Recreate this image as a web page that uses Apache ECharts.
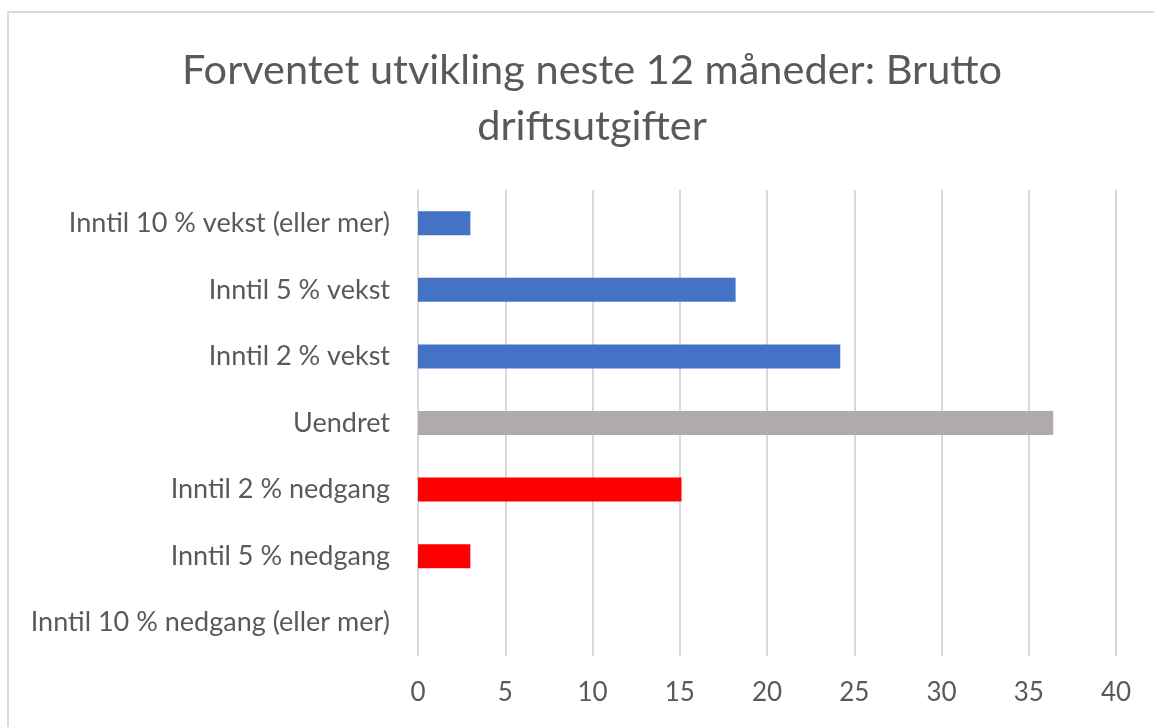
<!DOCTYPE html>
<html><head><meta charset="utf-8">
<script src="https://cdn.jsdelivr.net/npm/echarts@6/dist/echarts.min.js"></script>
<style>
html,body{margin:0;padding:0;background:#fff;}
#frame{position:absolute;left:7px;top:11px;width:1160px;height:740px;border:2px solid #d9d9d9;box-sizing:border-box;}
#chart{position:absolute;left:0;top:0;width:1154px;height:727px;}
</style></head>
<body>
<div id="frame"></div>
<div id="chart"></div>
<script>
const categories = [
  "Inntil 10 % vekst (eller mer)",
  "Inntil 5 % vekst",
  "Inntil 2 % vekst",
  "Uendret",
  "Inntil 2 % nedgang",
  "Inntil 5 % nedgang",
  "Inntil 10 % nedgang (eller mer)"
];
const values = [3.0, 18.2, 24.2, 36.4, 15.1, 3.0, 0];
const xTicks = [0, 5, 10, 15, 20, 25, 30, 35, 40];
const titleText = "Forventet utvikling neste 12 måneder: Brutto\ndriftsutgifter";

const barColors = ["#4472C4","#4472C4","#4472C4","#AFABAB","#FF0000","#FF0000","#FF0000"];
const font = "Lato, 'Open Sans', sans-serif";

const chart = echarts.init(document.getElementById('chart'), null, {renderer:'canvas'});
chart.setOption({
  backgroundColor: 'transparent',
  animation: false,
  title: {
    text: titleText,
    left: 587,
    top: 38,
    textAlign: 'center',
    textStyle: {fontFamily: font, fontSize: 41.5, fontWeight: 'normal', color: '#595959', lineHeight: 56}
  },
  grid: {left: 418, right: 38, top: 190, bottom: 71, containLabel: false},
  xAxis: {
    type: 'value',
    min: xTicks[0],
    max: xTicks[xTicks.length-1],
    interval: 5,
    axisLine: {show: false},
    axisTick: {show: false},
    splitLine: {show: true, lineStyle: {color: '#d9d9d9', width: 2}},
    axisLabel: {fontFamily: font, fontSize: 26, color: '#595959', margin: 24}
  },
  yAxis: {
    type: 'category',
    inverse: true,
    data: categories,
    axisLine: {show: false},
    axisTick: {show: false},
    axisLabel: {fontFamily: font, fontSize: 27, color: '#595959', margin: 28}
  },
  series: [{
    type: 'bar',
    barWidth: '36%',
    data: values.map((v, i) => ({value: v, itemStyle: {color: barColors[i]}}))
  }]
});
</script>
</body></html>
